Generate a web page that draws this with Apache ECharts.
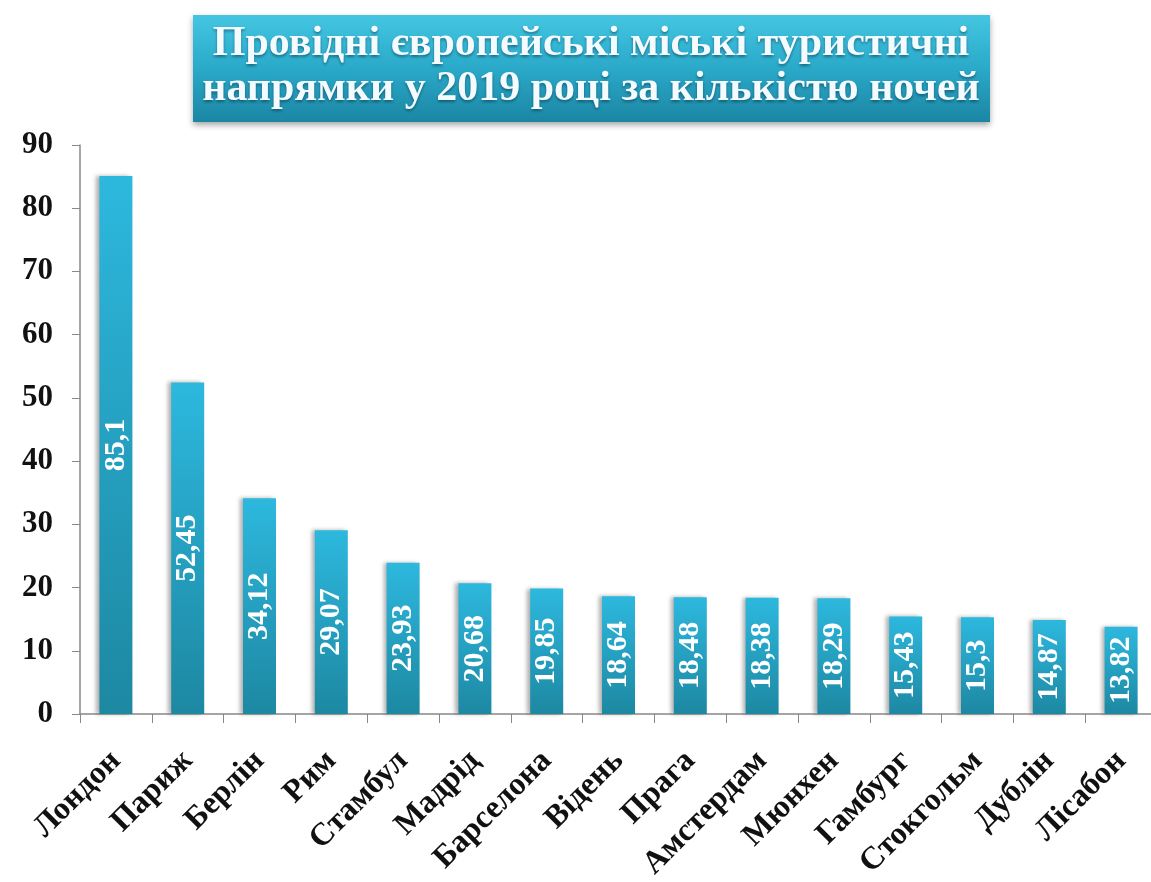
<!DOCTYPE html>
<html><head><meta charset="utf-8">
<script src="https://cdn.jsdelivr.net/npm/echarts@6/dist/echarts.min.js"></script>
<style>html,body{margin:0;padding:0;background:#fff}#c{width:1151px;height:882px}</style>
</head><body><div id="c"></div>
<script>
const titleLines = ['Провідні європейські міські туристичні', 'напрямки у 2019 році за кількістю ночей'];
const cities = ['Лондон','Париж','Берлін','Рим','Стамбул','Мадрід','Барселона','Відень','Прага','Амстердам','Мюнхен','Гамбург','Стокгольм','Дублін','Лісабон'];
const nights = [85.1,52.45,34.12,29.07,23.93,20.68,19.85,18.64,18.48,18.38,18.29,15.43,15.3,14.87,13.82];
const yTicks = [0,10,20,30,40,50,60,70,80,90];

const chart = echarts.init(document.getElementById('c'), null, {renderer:'canvas'});
const serif = 'Liberation Serif, Times New Roman, serif';
chart.setOption({
  animation:false,
  backgroundColor:'#fff',
  graphic:[{
    type:'rect', left:193, top:15,
    shape:{width:797, height:107},
    style:{
      fill:new echarts.graphic.LinearGradient(0,0,0,1,[{offset:0,color:'#44c6e2'},{offset:0.5,color:'#2aa9c9'},{offset:1,color:'#1b86a3'}]),
      shadowBlur:6, shadowColor:'rgba(0,0,0,0.35)', shadowOffsetY:3
    }
  },{
    type:'text', x:591, y:22,
    style:{
      text:titleLines.join('\n'), fill:'#f4fbff', font:'bold 42px '+serif,
      textAlign:'center', textVerticalAlign:'top', lineHeight:45,
      textShadowColor:'rgba(0,40,60,0.5)', textShadowBlur:3, textShadowOffsetY:2
    }
  }],
  grid:{left:80, width:1077, top:145, bottom:168, containLabel:false, outerBoundsMode:'none'},
  xAxis:{
    type:'category', data:cities,
    axisLine:{lineStyle:{color:'#888', width:1.5}},
    axisTick:{show:true, alignWithLabel:false, length:9, lineStyle:{color:'#888'}},
    axisLabel:{rotate:45, color:'#111', fontFamily:serif, fontWeight:'bold', fontSize:32, margin:42, interval:0}
  },
  yAxis:{
    type:'value', min:0, max:90, interval:10,
    axisLine:{show:true, lineStyle:{color:'#888', width:1.5}},
    axisTick:{show:true, length:8, lineStyle:{color:'#888'}},
    splitLine:{show:false},
    axisLabel:{color:'#111', fontFamily:serif, fontWeight:'bold', fontSize:31, margin:27,
      formatter:v=> yTicks.includes(v) ? String(v) : ''}
  },
  series:[{
    type:'bar', data:nights, barWidth:33,
    itemStyle:{
      color:new echarts.graphic.LinearGradient(0,0,0,1,[{offset:0,color:'#2db8de'},{offset:1,color:'#1d88a2'}]),
      shadowColor:'rgba(80,80,80,0.45)', shadowBlur:4, shadowOffsetX:-3
    },
    label:{
      show:true, position:'inside', rotate:90, color:'#fff',
      fontFamily:serif, fontWeight:'bold', fontSize:30,
      formatter:p=>String(p.value).replace('.',',')
    }
  }]
});
</script></body></html>
